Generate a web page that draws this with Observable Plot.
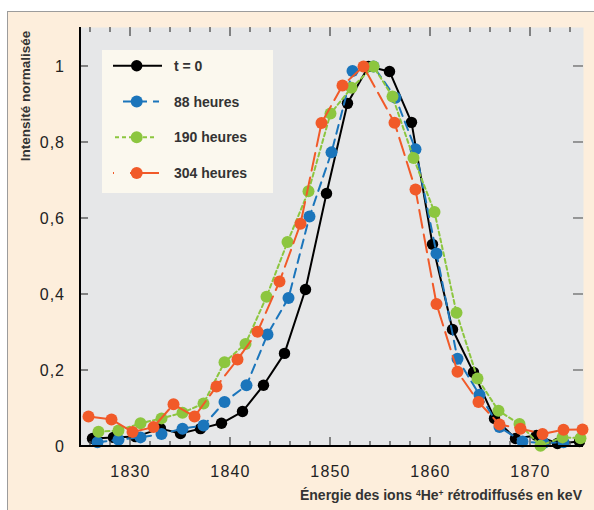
<!DOCTYPE html>
<html><head><meta charset="utf-8">
<script src="https://cdn.jsdelivr.net/npm/d3@7"></script>
<script src="https://cdn.jsdelivr.net/npm/@observablehq/plot@0.6"></script>
<style>
html,body{margin:0;padding:0;background:#fff;}
#wrap{position:relative;width:594px;height:510px;overflow:hidden;}
#bg{position:absolute;left:7px;top:11px;right:0;bottom:0;background:#fdeedc;border-top:1px solid #9c9c9c;border-left:1px solid #9c9c9c;}
#chart{position:absolute;left:0;top:0;}
</style></head><body>
<div id="wrap"><div id="bg"></div><div id="chart"></div></div>
<script>
// ---- data ----
const energyT0 = [1826.2,1828.3,1830.5,1833.0,1835.0,1837.0,1839.1,1841.2,1843.3,1845.4,1847.5,1849.6,1851.7,1853.8,1855.9,1858.1,1860.2,1862.2,1864.3,1866.4,1868.5,1870.6,1872.7,1874.9];
const intensityT0 = [0.021,0.024,0.026,0.047,0.034,0.047,0.061,0.092,0.161,0.245,0.413,0.666,0.903,1.0,0.987,0.853,0.532,0.308,0.195,0.074,0.021,0.029,0.008,0.013];

const energy88 = [1826.7,1828.8,1831.0,1833.1,1835.2,1837.3,1839.4,1841.6,1843.7,1845.8,1847.9,1850.1,1852.2,1854.3,1856.5,1858.5,1860.6,1862.7,1864.9,1866.9,1869.2,1871.3,1873.3];
const intensity88 = [0.011,0.018,0.024,0.033,0.047,0.055,0.117,0.161,0.295,0.391,0.605,0.774,0.988,1.0,0.918,0.782,0.508,0.231,0.136,0.051,0.013,0.009,0.011];

const energy190 = [1826.8,1828.8,1831.0,1833.1,1835.2,1837.3,1839.4,1841.5,1843.6,1845.7,1847.8,1850.0,1852.1,1854.3,1856.2,1858.3,1860.4,1862.6,1864.7,1866.8,1868.9,1871.0,1873.2,1875.0];
const intensity190 = [0.039,0.042,0.061,0.074,0.089,0.113,0.222,0.270,0.394,0.538,0.672,0.876,0.944,1.0,0.921,0.759,0.617,0.352,0.179,0.094,0.059,0.002,0.024,0.022];

const energy304 = [1825.8,1828.1,1830.2,1832.3,1834.3,1836.4,1838.6,1840.7,1842.7,1844.9,1847.0,1849.1,1851.2,1853.3,1856.4,1858.5,1860.6,1862.7,1864.8,1866.9,1869.0,1871.2,1873.3,1875.2];
const intensity304 = [0.079,0.071,0.038,0.051,0.111,0.079,0.158,0.229,0.302,0.434,0.586,0.851,0.950,1.0,0.852,0.676,0.375,0.197,0.117,0.058,0.047,0.033,0.044,0.045];

const seriesNames = ["t = 0", "88 heures", "190 heures", "304 heures"];
const xMajorTicks = [1830, 1840, 1850, 1860, 1870];
const xTickLabels = ["1830", "1840", "1850", "1860", "1870"];
const yTicks = [0, 0.2, 0.4, 0.6, 0.8, 1];
const yTickLabels = ["0", "0,2", "0,4", "0,6", "0,8", "1"];
const yTitle = "Intensité normalisée";

// ---- styles ----
const FONT = "'Liberation Sans', Arial, Helvetica, sans-serif";
const series = [
  {name: seriesNames[0], energy: energyT0, intensity: intensityT0, color: "#000000", dash: undefined, r: 5.7},
  {name: seriesNames[1], energy: energy88, intensity: intensity88, color: "#1b75bb", dash: "9,6", r: 6},
  {name: seriesNames[2], energy: energy190, intensity: intensity190, color: "#8cc63f", dash: "4,3", r: 6},
  {name: seriesNames[3], energy: energy304, intensity: intensity304, color: "#f15a29", dash: "18,7", r: 6}
];

const marks = [Plot.frame({fill: "#e6e7e8", stroke: "none"})];
for (const s of series) {
  const data = s.energy.map((e, i) => ({e, v: s.intensity[i]}));
  marks.push(Plot.line(data, {x: "e", y: "v", stroke: s.color, strokeWidth: 2, strokeDasharray: s.dash, clip: true}));
  marks.push(Plot.dot(data, {x: "e", y: "v", fill: s.color, r: s.r}));
}

const chart = Plot.plot({
  width: 594, height: 510,
  marginLeft: 80, marginRight: 11, marginTop: 27, marginBottom: 64,
  style: {background: "transparent", fontFamily: FONT, overflow: "visible"},
  x: {domain: [1825, 1875.3], axis: null},
  y: {domain: [0, 1.1026], axis: null},
  marks
});
document.getElementById("chart").appendChild(chart);

const X = chart.scale("x"), Y = chart.scale("y");
const xl = X.apply(1825), xr = X.apply(1875.3);
const yb = Y.apply(0), yt = Y.apply(1.1026);
const svg = d3.select(chart);

// ticks
const tg = svg.append("g").attr("stroke", "#4a4a4a").attr("stroke-width", 1.3);
const minor = d3.range(1826, 1875, 2);
for (const v of minor) {
  const len = xMajorTicks.includes(v) ? 9 : 5;
  tg.append("line").attr("x1", X.apply(v)).attr("x2", X.apply(v)).attr("y1", yb).attr("y2", yb - len);
  tg.append("line").attr("x1", X.apply(v)).attr("x2", X.apply(v)).attr("y1", yt).attr("y2", yt + len);
}
for (const v of yTicks) {
  if (v === 0) continue;
  tg.append("line").attr("x1", xl).attr("x2", xl + 8).attr("y1", Y.apply(v)).attr("y2", Y.apply(v));
  tg.append("line").attr("x1", xr - 10).attr("x2", xr).attr("y1", Y.apply(v)).attr("y2", Y.apply(v)).attr("stroke", "#6a6a6a");
}
// axis lines
svg.append("line").attr("x1", xl).attr("x2", xl).attr("y1", yt).attr("y2", yb + 1).attr("stroke", "#000").attr("stroke-width", 2);
svg.append("line").attr("x1", xl - 1).attr("x2", xr).attr("y1", yb).attr("y2", yb).attr("stroke", "#000").attr("stroke-width", 2);

// tick labels
const lab = svg.append("g").attr("font-family", FONT).attr("font-size", 16).attr("fill", "#222");
yTicks.forEach((v, i) => {
  lab.append("text").attr("x", xl - 15).attr("y", Y.apply(v)).attr("dy", "0.36em")
    .attr("text-anchor", "end").attr("letter-spacing", 1).text(yTickLabels[i]);
});
xMajorTicks.forEach((v, i) => {
  lab.append("text").attr("x", X.apply(v) + 0.5).attr("y", yb + 30.5)
    .attr("text-anchor", "middle").attr("letter-spacing", 1.2).text(xTickLabels[i]);
});

// axis titles
svg.append("text").attr("transform", `translate(30,96) rotate(-90)`)
  .attr("text-anchor", "middle").attr("font-family", FONT).attr("font-weight", "bold")
  .attr("font-size", 13.5).attr("fill", "#333").text(yTitle);
const xt = svg.append("text").attr("x", xr - 1).attr("y", yb + 54).attr("text-anchor", "end")
  .attr("font-family", FONT).attr("font-weight", "bold").attr("font-size", 14).attr("fill", "#333");
xt.append("tspan").text("Énergie des ions ");
xt.append("tspan").attr("font-size", 8.5).attr("dy", -4).text("4");
xt.append("tspan").attr("dy", 4).text("He");
xt.append("tspan").attr("font-size", 8.5).attr("dy", -4).text("+");
xt.append("tspan").attr("dy", 4).text(" rétrodiffusés en keV");

// legend
const lg = svg.append("g");
lg.append("rect").attr("x", 102).attr("y", 50).attr("width", 171).attr("height", 143).attr("fill", "#fbf8ee");
const legendDash = [undefined, "9,6", "4,3", "1,16,40"];
const legendX1 = [113, 123, 115, 113];
const legendX2 = [162, 159, 157, 159];
series.forEach((s, i) => {
  const cy = 65.7 + i * 35.8;
  lg.append("line").attr("x1", legendX1[i]).attr("x2", legendX2[i]).attr("y1", cy).attr("y2", cy)
    .attr("stroke", s.color).attr("stroke-width", 2).attr("stroke-dasharray", legendDash[i] || null);
  lg.append("circle").attr("cx", 136.7).attr("cy", cy).attr("r", s.r).attr("fill", s.color);
  lg.append("text").attr("x", 174).attr("y", cy).attr("dy", "0.36em").attr("text-anchor", "start")
    .attr("font-family", FONT).attr("font-weight", "bold").attr("font-size", 14).attr("fill", "#333").text(s.name);
});
</script>
</body></html>
